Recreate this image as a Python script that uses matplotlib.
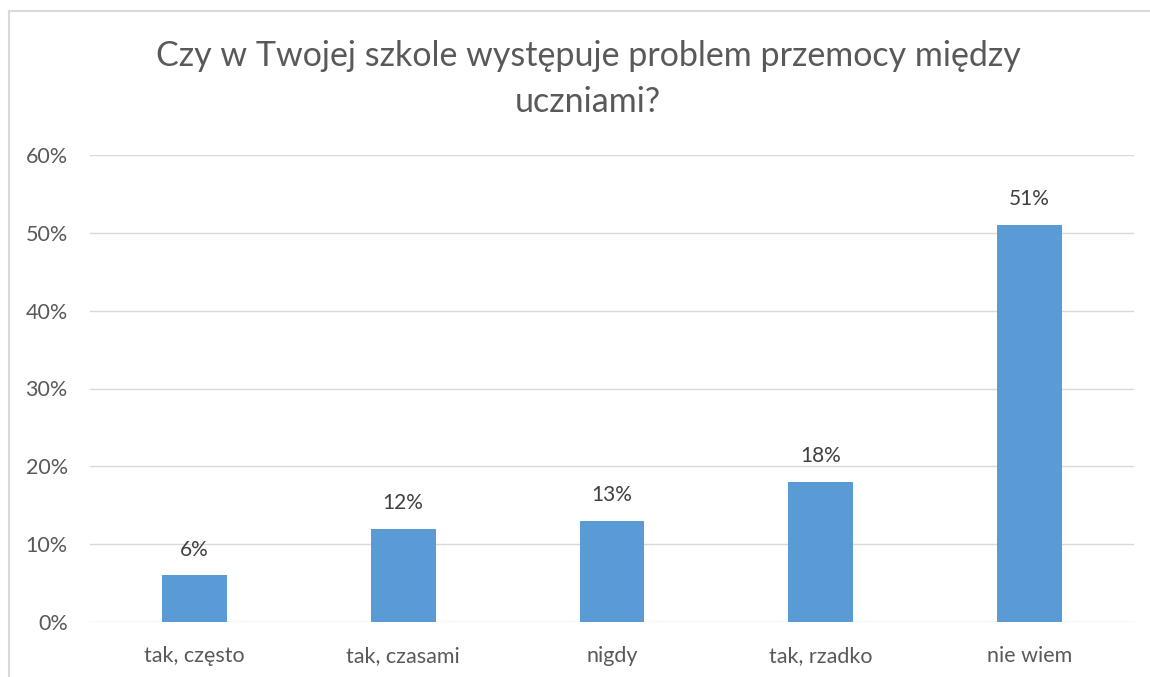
import matplotlib
matplotlib.use("Agg")
import matplotlib.pyplot as plt
from matplotlib.lines import Line2D
from matplotlib.ticker import FuncFormatter, MultipleLocator

categories = ["tak, często", "tak, czasami", "nigdy", "tak, rzadko", "nie wiem"]
values = [6, 12, 13, 18, 51]
title = "Czy w Twojej szkole występuje problem przemocy między\nuczniami?"

plt.rcParams['font.family'] = ['Lato', 'DejaVu Sans']
txt = "#595959"

fig = plt.figure(figsize=(11.5, 6.77), dpi=100)
ax = fig.add_axes([90/1150, 1-622/677, (1134-90)/1150, (622-155)/677])

x = range(len(categories))
bars = ax.bar(x, values, width=0.31, color="#5B9BD5", zorder=3)
for xi, v in zip(x, values):
    ax.text(xi, v + 2.0, f"{v}%", ha="center", va="bottom", fontsize=15, color="#404040")

ax.set_xlim(-0.5, 4.5)
ax.set_ylim(0, 60)
ax.yaxis.set_major_locator(MultipleLocator(10))
ax.yaxis.set_major_formatter(FuncFormatter(lambda v, p: f"{int(v)}%"))
ax.set_xticks(list(x))
ax.set_xticklabels(categories)
ax.grid(axis="y", color="#D9D9D9", linewidth=1, zorder=0)
for s in ax.spines.values():
    s.set_visible(False)
ax.tick_params(axis="both", length=0, labelsize=15.5, colors=txt)
ax.tick_params(axis="x", pad=17)
ax.tick_params(axis="y", pad=16)

fig.text(588/1150, 1-79/677, title, ha="center", va="center", fontsize=24.5, color=txt, linespacing=1.55)

fig.add_artist(Line2D([9/1150, 9/1150], [0, 1-11/677], color="#D9D9D9", lw=1.5, transform=fig.transFigure))
fig.add_artist(Line2D([9/1150, 1], [1-11/677, 1-11/677], color="#D9D9D9", lw=1.5, transform=fig.transFigure))

fig.savefig("out.png", dpi=100)
